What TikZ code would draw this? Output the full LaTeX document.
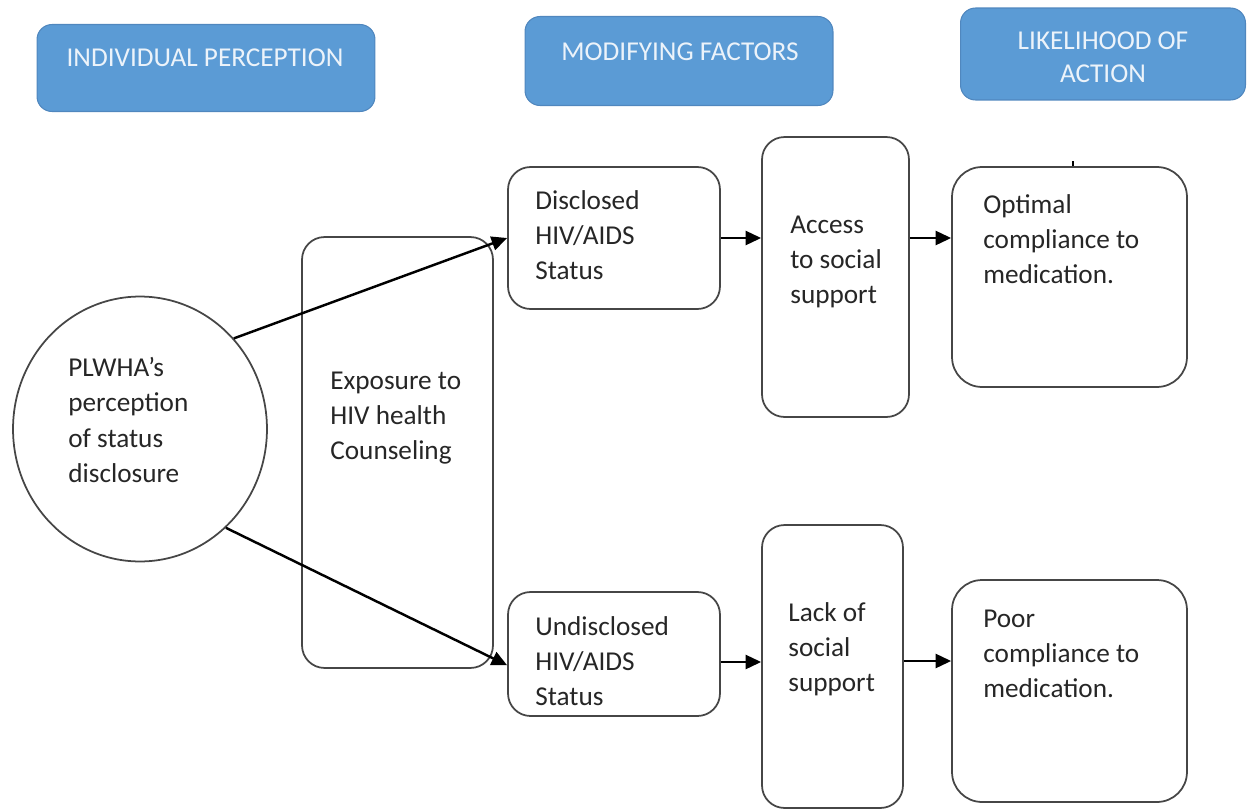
\documentclass[tikz,border=0pt]{standalone}
\usepackage{fontspec}
\setmainfont{Carlito}
\usetikzlibrary{shapes.geometric, arrows.meta, positioning, calc}
\definecolor{headblue}{RGB}{91,155,213}
\definecolor{headedge}{RGB}{80,135,190}
\definecolor{headtext}{RGB}{236,243,250}
\definecolor{edgegray}{RGB}{70,70,70}
\definecolor{textgray}{RGB}{38,38,38}

\begin{document}
\begin{tikzpicture}[
        x=0.02cm, y=-0.02cm,
        header/.style={rectangle, draw=headedge, fill=headblue, rounded corners=0.3cm, line width=0.6pt, inner sep=0pt},
        headtxt/.style={text=headtext, align=center, inner sep=0pt, font=\fontsize{15.5}{19}\selectfont},
        box/.style={rectangle, draw=edgegray, rounded corners=0.45cm, line width=1pt, inner sep=0pt},
        txt/.style={anchor=west, align=left, inner sep=0pt, text=textgray, font=\fontsize{15.5}{20}\selectfont},
        arr/.style={-{Triangle[length=0.31cm, width=0.28cm]}, line width=1.4pt, black}
    ]
        \useasboundingbox (0,0) rectangle (1249,812);

        % headers
        \node[header, minimum width=6.76cm, minimum height=1.74cm] (hindiv) at (206,68) {};
        \node[headtxt] (hindivtxt) at (205,58) {INDIVIDUAL PERCEPTION};
        \node[header, minimum width=6.16cm, minimum height=1.78cm] (hmodif) at (679,61) {};
        \node[headtxt] (hmodiftxt) at (680,52) {MODIFYING FACTORS};
        \node[header, minimum width=5.7cm, minimum height=1.84cm] (hlikely) at (1103,54) {};
        \node[headtxt] (hlikelytxt) at (1103,57) {LIKELIHOOD OF\\ACTION};

        % boxes
        \node[ellipse, draw=edgegray, line width=1pt, minimum width=5.08cm, minimum height=5.3cm, inner sep=0pt] (plwha) at (140,429) {};
        \node[box, minimum width=3.82cm, minimum height=8.62cm] (counsel) at (397.5,452.5) {};
        \node[box, minimum width=4.24cm, minimum height=2.84cm] (disc) at (614,238) {};
        \node[box, minimum width=4.24cm, minimum height=2.48cm] (undisc) at (614,654) {};
        \node[box, minimum width=2.94cm, minimum height=5.6cm] (access) at (835.5,277) {};
        \node[box, minimum width=2.82cm, minimum height=5.66cm] (lack) at (832.5,666.5) {};
        \node[box, minimum width=4.7cm, minimum height=4.4cm, rounded corners=0.6cm] (optimal) at (1069.5,277) {};
        \node[box, minimum width=4.7cm, minimum height=4.44cm, rounded corners=0.6cm] (poor) at (1069.5,691) {};

        % texts
        \node[txt] (plwhatxt) at (68,420) {PLWHA’s\\perception\\of status\\disclosure};
        \node[txt] (counseltxt) at (330,418) {Exposure to\\HIV health\\Counseling};
        \node[txt] (disctxt) at (535,235) {Disclosed\\HIV/AIDS\\Status};
        \node[txt] (accesstxt) at (790,262) {Access\\to social\\support};
        \node[txt] (optimaltxt) at (983,239) {Optimal\\compliance to\\medication.};
        \node[txt] (undisctxt) at (535,661) {Undisclosed\\HIV/AIDS\\Status};
        \node[txt] (lacktxt) at (788,649) {Lack of\\social\\support};
        \node[txt] (poortxt) at (983,654) {Poor\\compliance to\\medication.};

        % connectors
        \draw[arr] (plwha.44) -- (disc.west);
        \draw[arr] (plwha.-49) -- (undisc.186);
        \draw[arr] (disc.east) -- (disc.east -| access.west);
        \draw[arr] (disc.east -| access.east) -- (disc.east -| optimal.west);
        \draw[arr] ($(undisc.east)+(0,8)$) -- ($(undisc.east -| lack.west)+(0,8)$);
        \draw[arr] ($(undisc.east -| lack.east)+(0,7)$) -- ($(undisc.east -| poor.west)+(0,7)$);
        \draw[line width=1pt] (optimal.north -| 1073,0) -- ++(0,-5);
    \end{tikzpicture}
\end{document}
